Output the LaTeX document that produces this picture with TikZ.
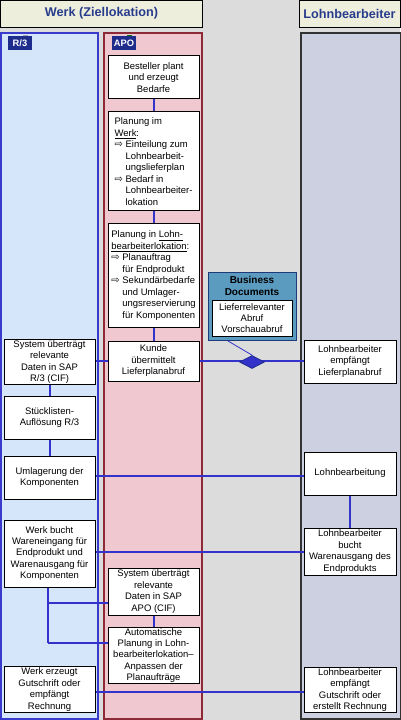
\documentclass[tikz,border=0pt]{standalone}
\usepackage{fontspec}
\setmainfont{Liberation Sans}
\newfontfamily\symf{DejaVu Sans}
\usetikzlibrary{shapes.geometric}
\definecolor{bgc}{HTML}{DCDCDC}
\definecolor{hdrf}{HTML}{EEEEDD}
\definecolor{hdrt}{HTML}{283C8C}
\definecolor{r3f}{HTML}{D6E6FA}
\definecolor{r3b}{HTML}{3A3ACC}
\definecolor{apof}{HTML}{F0C8CF}
\definecolor{apob}{HTML}{8C2A38}
\definecolor{lohf}{HTML}{CDD0E0}
\definecolor{lohb}{HTML}{333333}
\definecolor{conn}{HTML}{3333CC}
\definecolor{lblf}{HTML}{1E2D8C}
\definecolor{bizf}{HTML}{5B9BC0}
\definecolor{bizb}{HTML}{1F3A7A}
\newcommand{\bxf}{\fontsize{7.1}{8.6}\selectfont}
\newcommand{\arr}{{\symf\fontsize{7.5}{7.5}\selectfont ⇨}}
\newcommand{\ind}{\phantom{\arr\ }}
\tikzset{
  box/.style={draw=black, line width=0.75pt, fill=white, align=center, font=\bxf, inner sep=1pt, minimum width=68.25pt},
  hdr/.style={draw=black, line width=0.6pt, fill=hdrf, text=hdrt, font=\fontsize{9.5}{10}\selectfont\bfseries, minimum height=20.25pt},
  lbl/.style={fill=lblf, text=white, font=\fontsize{7}{8}\selectfont\bfseries, minimum width=18pt, minimum height=10.5pt, inner sep=0pt},
  cn/.style={draw=conn, line width=1.5pt},
}
\begin{document}
\begin{tikzpicture}[x=0.75pt,y=-0.75pt]
\useasboundingbox[fill=bgc] (0,0) rectangle (400,720);
% headers
\node[hdr, minimum width=151.5pt] (h1) at (101.5,13.5) {Werk (Ziellokation)};
\node[hdr, minimum width=75.75pt] (h2) at (349.5,13.5) {Lohnbearbeiter};
% lanes
\draw[draw=r3b, fill=r3f, line width=1.5pt] (1,33) rectangle (98,719);
\draw[draw=apob, fill=apof, line width=1.5pt] (104,33) rectangle (202,719);
\draw[draw=lohb, fill=lohf, line width=1.5pt] (300.5,33) rectangle (401,719);
% lane labels
\fill[gray!70] (23,35) rectangle (28,37);
\node[lbl] (r3l) at (20,43) {R/3};
\fill[green!45!black] (127,35) rectangle (132,37);
\node[lbl] (apol) at (124,43) {APO};
% APO column
\node[box, minimum height=32.25pt] (best) at (153.5,77.5) {Besteller plant\\und erzeugt\\Bedarfe};
\node[box, minimum height=74.25pt, align=left] (pw) at (153.5,161.5) {Planung im\\\underline{Werk}:\\\arr\ Einteilung zum\\\ind Lohnbearbeit-\\\ind ungslieferplan\\\arr\ Bedarf in\\\ind Lohnbearbeiter-\\\ind lokation};
\node[box, minimum height=77.25pt, align=left] (pl) at (153.5,275.5) {Planung in \underline{Lohn-}\\\underline{bearbeiterlokation}:\\\arr\ Planauftrag\\\ind für Endprodukt\\\arr\ Sekundärbedarfe\\\ind und Umlager-\\\ind ungsreservierung\\\ind für Komponenten};
\node[box, minimum height=30pt] (kunde) at (153.5,361) {Kunde\\übermittelt\\Lieferplanabruf};
\node[box, minimum height=35.25pt] (sysapo) at (153.5,591.5) {System überträgt\\relevante\\Daten in SAP\\APO (CIF)};
\node[box, minimum height=41.25pt, font=\fontsize{7.1}{8.3}\selectfont] (auto) at (153.5,655.5) {Automatische\\Planung in Lohn-\\bearbeiterlokation–\\Anpassen der\\Planaufträge};
% R/3 column
\node[box, minimum height=31.5pt] (sysr3) at (49.5,362) {System überträgt\\relevante\\Daten in SAP\\R/3 (CIF)};
\node[box, minimum height=32.25pt] (stl) at (49.5,417.5) {Stücklisten-\\Auflösung R/3};
\node[box, minimum height=32.25pt] (uml) at (49.5,477.5) {Umlagerung der\\Komponenten};
\node[box, minimum height=50.25pt] (wb) at (49.5,553.5) {Werk bucht\\Wareneingang für\\Endprodukt und\\Warenausgang für\\Komponenten};
\node[box, minimum height=32.25pt] (we) at (49.5,689.5) {Werk erzeugt\\Gutschrift oder\\empfängt\\Rechnung};
% Lohnbearbeiter column
\node[box, minimum width=69pt, minimum height=32.25pt] (lla) at (350,361.5) {Lohnbearbeiter\\empfängt\\Lieferplanabruf};
\node[box, minimum width=69pt, minimum height=32.25pt] (lb) at (350,473.5) {Lohnbearbeitung};
\node[box, minimum width=69pt, minimum height=35.25pt] (lbw) at (350,551.5) {Lohnbearbeiter\\bucht\\Warenausgang des\\Endprodukts};
\node[box, minimum width=69pt, minimum height=33pt] (lg) at (350,690) {Lohnbearbeiter\\empfängt\\Gutschrift oder\\erstellt Rechnung};
% Business documents
\node[draw=bizb, fill=bizf, line width=0.75pt, minimum width=66pt, minimum height=51pt, inner sep=0pt] (biz) at (252,306) {};
\node[font=\fontsize{7.5}{9}\selectfont\bfseries, align=center, inner sep=0pt] (bizt) at (252,286) {Business\\Documents};
\node[draw=black, line width=0.6pt, fill=white, minimum width=60pt, minimum height=27pt, inner sep=0pt, align=center, font=\fontsize{7.1}{8.3}\selectfont] (bizi) at (252,318) {Lieferrelevanter\\Abruf\\Vorschauabruf};
% connectors
\draw[cn] (best) -- (pw);
\draw[cn] (pw) -- (pl);
\draw[cn] (pl) -- (kunde);
\draw[cn] (sysapo) -- (auto);
\draw[cn] (sysr3) -- (stl);
\draw[cn] (stl) -- (uml);
\draw[cn] (lb) -- (lbw);
\draw[cn] (sysr3.east |- kunde.west) -- (kunde.west);
\draw[cn] (kunde.east) -- (lla.west |- kunde.east);
\draw[cn] (uml.east |- 0,476) -- (lb.west |- 0,476);
\draw[cn] (wb.east |- 0,552) -- (lbw.west |- 0,552);
\draw[cn] (we.east |- 0,692) -- (lg.west |- 0,692);
\coordinate (j1) at (48,603);
\coordinate (j2) at (48,643);
\draw[cn] (wb.south -| j1) -- (j2);
\draw[cn] (j1) -- (sysapo.west |- j1);
\draw[cn] (j2) -- (auto.west |- j2);
% diamond
\node[diamond, aspect=2, draw=lblf, fill=conn, line width=0.6pt, minimum width=18.75pt, minimum height=9.75pt, inner sep=0pt] (dia) at (252,362) {};
\coordinate (dl) at (228,341);
\draw[draw=conn, line width=0.6pt] (dl) -- (dia.north);
\end{tikzpicture}
\end{document}
